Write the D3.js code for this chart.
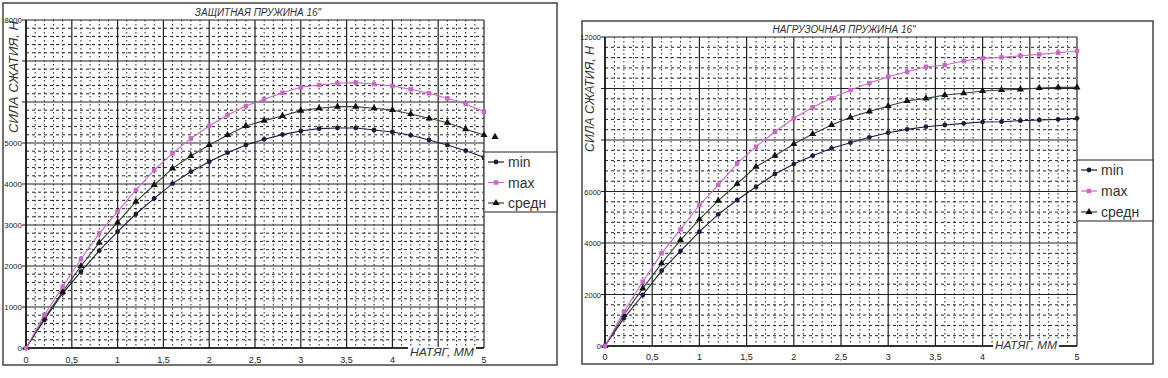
<!DOCTYPE html>
<html><head><meta charset="utf-8">
<script src="https://cdn.jsdelivr.net/npm/d3@7"></script>
<style>
body{margin:0;background:#fff;}
svg{display:block;font-family:"Liberation Sans",Arial,sans-serif;}
</style></head>
<body><svg id="c" width="1168" height="378"></svg>
<script>
// ---------- DATA ----------
const xValues = [0,0.2,0.4,0.6,0.8,1.0,1.2,1.4,1.6,1.8,2.0,2.2,2.4,2.6,2.8,3.0,3.2,3.4,3.6,3.8,4.0,4.2,4.4,4.6,4.8,5.0];
const xTickLabels = [0,0.5,1,1.5,2,2.5,3,3.5,4,5];
const seriesNames = ["min","max","средн"];

// Left: защитная пружина
const leftTitle = "ЗАЩИТНАЯ ПРУЖИНА 16\"";
const leftMin = [0,683,1334,1861,2373,2837,3268,3651,4010,4300,4544,4764,4951,5090,5205,5293,5350,5366,5366,5317,5268,5187,5073,4951,4813,4650];
const leftMax = [0,805,1495,2170,2797,3325,3854,4341,4748,5114,5415,5683,5902,6065,6227,6358,6415,6456,6472,6439,6390,6309,6212,6090,5951,5764];
const leftAvg = [0,724,1374,2000,2569,3065,3569,3976,4382,4683,4951,5195,5415,5545,5659,5789,5846,5886,5886,5846,5805,5707,5602,5496,5334,5195];
const leftAvgExtra = [[5.12,5150]];
const leftYTickLabels = [0,1000,2000,3000,4000,5000,8000];

// Right: нагрузочная пружина
const rightTitle = "НАГРУЗОЧНАЯ ПРУЖИНА 16\"";
const rightMin = [0,1074,1980,2925,3689,4439,5113,5669,6185,6679,7067,7390,7676,7894,8104,8283,8414,8516,8582,8647,8698,8711,8750,8776,8802,8840];
const rightMax = [0,1332,2497,3600,4530,5475,6252,7094,7741,8321,8842,9269,9618,9940,10210,10457,10652,10846,10911,11067,11171,11210,11272,11326,11390,11455];
const rightAvg = [0,1204,2240,3211,4116,4920,5643,6300,6963,7390,7844,8232,8582,8880,9110,9319,9513,9618,9746,9813,9902,9940,9967,10018,10043,10043];
const rightYTickLabels = [0,2000,4000,6000,12000];

const yTitle = "СИЛА СЖАТИЯ, Н";
const xTitle = "НАТЯГ, ММ";

// ---------- STYLE ----------
const colMin = "#1c1c3c", colMax = "#cc66c8", colAvgLine = "#2d4a2d", colAvgMark = "#111";
const svg = d3.select("#c");

function chart(cfg){
  const g = svg.append("g");
  g.append("rect").attr("x",cfg.box[0]).attr("y",cfg.box[1])
    .attr("width",cfg.box[2]-cfg.box[0]).attr("height",cfg.box[3]-cfg.box[1])
    .attr("fill","#fff").attr("stroke","#444").attr("stroke-width",1.5);

  const x = d3.scaleLinear().domain([0,5]).range([cfg.px0,cfg.px1]);
  const y = d3.scaleLinear().domain([0,cfg.ymax]).range([cfg.pyb,cfg.pyt]);

  // minor grid
  const minorX = d3.range(0,50).map(i=>i/10).filter(v=>Math.abs(v*2-Math.round(v*2))>1e-6);
  const minorY = d3.range(0,cfg.ymax,cfg.ymin).filter(v=>v%cfg.ymaj!==0);
  g.append("g").selectAll("line").data(minorX).join("line")
    .attr("x1",d=>x(d)).attr("x2",d=>x(d)).attr("y1",cfg.pyt).attr("y2",cfg.pyb)
    .attr("stroke","#222").attr("stroke-width",1).attr("stroke-dasharray","1.5,2.5");
  g.append("g").selectAll("line").data(minorY).join("line")
    .attr("y1",d=>y(d)).attr("y2",d=>y(d)).attr("x1",cfg.px0).attr("x2",cfg.px1)
    .attr("stroke","#222").attr("stroke-width",1).attr("stroke-dasharray","3,3");

  // major grid
  const majorX = d3.range(0,11).map(i=>i/2);
  const majorY = d3.range(0,cfg.ymax+1,cfg.ymaj);
  g.append("g").selectAll("line").data(majorX).join("line")
    .attr("x1",d=>x(d)).attr("x2",d=>x(d)).attr("y1",cfg.pyt).attr("y2",cfg.pyb)
    .attr("stroke","#222").attr("stroke-width",1.2);
  g.append("g").selectAll("line").data(majorY).join("line")
    .attr("y1",d=>y(d)).attr("y2",d=>y(d)).attr("x1",cfg.px0-4).attr("x2",cfg.px1)
    .attr("stroke","#222").attr("stroke-width",1.2);
  g.append("line").attr("x1",cfg.px0).attr("x2",cfg.px0).attr("y1",cfg.pyt).attr("y2",cfg.pyb)
    .attr("stroke","#111").attr("stroke-width",1.5);
  g.append("line").attr("x1",cfg.px0).attr("x2",cfg.px1).attr("y1",cfg.pyb).attr("y2",cfg.pyb)
    .attr("stroke","#111").attr("stroke-width",1.5);

  g.append("g").selectAll("text").data(cfg.yLabels).join("text")
    .attr("x",cfg.px0-4).attr("y",d=>y(d)+3).attr("text-anchor","end")
    .attr("font-size",cfg.yFont).attr("fill","#222").text(d=>d);
  g.append("g").selectAll("text").data(xTickLabels).join("text")
    .attr("x",d=>x(d)).attr("y",cfg.xLabY).attr("text-anchor","middle")
    .attr("font-size",9).attr("fill","#222").text(d=>String(d).replace(".",","));

  g.append("text").attr("x",(cfg.px0+cfg.px1)/2+3).attr("y",cfg.titleY).attr("text-anchor","middle")
    .attr("font-size",10).attr("font-style","italic").attr("fill","#333").text(cfg.title);
  g.append("text").attr("transform",`translate(${cfg.yTitleX},${cfg.yTitleY}) rotate(-90)`)
    .attr("text-anchor","middle").attr("font-size",13).attr("font-style","italic")
    .attr("fill","#333").attr("textLength",cfg.yTitleLen).attr("lengthAdjust","spacingAndGlyphs").text(yTitle);
  g.append("rect").attr("x",cfg.xTitleX-2).attr("y",cfg.xTitleY-9).attr("width",cfg.xTitleLen+4).attr("height",12).attr("fill","#fff");
  g.append("text").attr("x",cfg.xTitleX).attr("y",cfg.xTitleY).attr("font-size",10.5).attr("font-style","italic")
    .attr("fill","#333").attr("textLength",cfg.xTitleLen).attr("lengthAdjust","spacingAndGlyphs").text(xTitle);

  const line = d3.line().x((d,i)=>x(xValues[i])).y(d=>y(d));
  const series = [
    {vals:cfg.min, line:colMin, mark:colMin, shape:"circle"},
    {vals:cfg.avg, line:colAvgLine, mark:colAvgMark, shape:"triangle"},
    {vals:cfg.max, line:colMax, mark:colMax, shape:"square"}
  ];
  const sym = {circle:d3.symbol().type(d3.symbolCircle).size(18),
               square:d3.symbol().type(d3.symbolSquare).size(20),
               triangle:d3.symbol().type(d3.symbolTriangle).size(22)};
  series.forEach(s=>{
    g.append("path").attr("d",line(s.vals)).attr("fill","none").attr("stroke",s.line).attr("stroke-width",1.1);
    g.append("g").selectAll("path").data(s.vals).join("path")
      .attr("transform",(d,i)=>`translate(${x(xValues[i])},${y(d)})`)
      .attr("d",sym[s.shape]()).attr("fill",s.mark);
  });
  if(cfg.avgExtra){
    g.append("g").selectAll("path").data(cfg.avgExtra).join("path")
      .attr("transform",d=>`translate(${x(d[0])},${y(d[1])})`)
      .attr("d",sym.triangle()).attr("fill",colAvgMark);
  }

  const L = cfg.legend;
  g.append("rect").attr("x",L[0]).attr("y",L[1]).attr("width",L[2]-L[0]).attr("height",L[3]-L[1])
    .attr("fill","#fff").attr("stroke","#444").attr("stroke-width",1.2);
  const legItems = [
    {name:seriesNames[0], line:colMin, mark:colMin, shape:"circle"},
    {name:seriesNames[1], line:colMax, mark:colMax, shape:"square"},
    {name:seriesNames[2], line:colAvgLine, mark:colAvgMark, shape:"triangle"}
  ];
  const ly = d3.scalePoint().domain(seriesNames).range([L[1]+10,L[3]-9]);
  legItems.forEach(it=>{
    const yy = ly(it.name);
    g.append("line").attr("x1",L[0]+4).attr("x2",L[0]+20).attr("y1",yy).attr("y2",yy)
      .attr("stroke",it.line).attr("stroke-width",1.2);
    g.append("path").attr("transform",`translate(${L[0]+12},${yy})`).attr("d",sym[it.shape]()).attr("fill",it.mark);
    g.append("text").attr("x",L[0]+24).attr("y",yy+5).attr("font-size",14).attr("fill","#333").text(it.name);
  });
}

chart({box:[3,3,557,365], px0:26, px1:484, pyt:20, pyb:348, ymax:8000, ymaj:1000, ymin:200,
  min:leftMin, max:leftMax, avg:leftAvg, avgExtra:leftAvgExtra, yLabels:leftYTickLabels, yFont:8,
  xLabY:363, title:leftTitle, titleY:16, yTitleX:18, yTitleY:77, yTitleLen:112,
  xTitleX:410, xTitleY:356, xTitleLen:64, legend:[484,152,557,212]});

chart({box:[582,21,1153,364], px0:605, px1:1077, pyt:37, pyb:346, ymax:12000, ymaj:2000, ymin:400,
  min:rightMin, max:rightMax, avg:rightAvg, avgExtra:null, yLabels:rightYTickLabels, yFont:7.5,
  xLabY:360, title:rightTitle, titleY:33, yTitleX:594, yTitleY:99, yTitleLen:106,
  xTitleX:995, xTitleY:349, xTitleLen:62, legend:[1077,160,1153,221]});
</script></body></html>
